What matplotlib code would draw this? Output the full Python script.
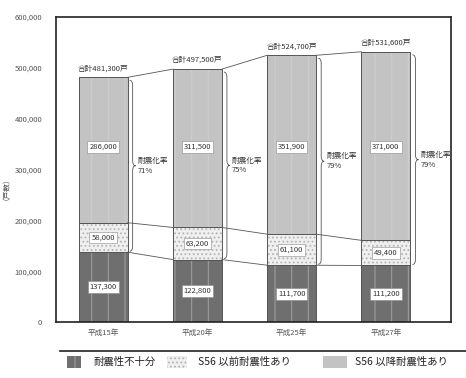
import matplotlib
matplotlib.use("Agg")
import matplotlib.pyplot as plt
from matplotlib.patches import Rectangle, PathPatch
from matplotlib.path import Path
from matplotlib.lines import Line2D

plt.rcParams['font.family'] = ['Noto Sans CJK JP', 'DejaVu Sans']
plt.rcParams['hatch.linewidth'] = 0.8

years = ["平成15年", "平成20年", "平成25年", "平成27年"]
insufficient = [137300, 122800, 111700, 111200]
pre56 = [58000, 63200, 61100, 49400]
post56 = [286000, 311500, 351900, 371000]
rates = ["71%", "75%", "79%", "79%"]
yticks = [0, 100000, 200000, 300000, 400000, 500000, 600000]
legend_labels = ["耐震性不十分", "S56 以前耐震性あり", "S56 以降耐震性あり"]

W, H = 466, 378
fig = plt.figure(figsize=(W / 100, H / 100), dpi=100)
L, R, T, B = 56, 451, 17, 322
ax = fig.add_axes([L / W, 1 - B / H, (R - L) / W, (B - T) / H])
ax.set_xlim(-0.5, 3.69)
ax.set_ylim(0, 600000)

px_x = (3.69 + 0.5) / (R - L)
px_y = 600000 / (B - T)

x = list(range(len(years)))
bw = 0.52
dark_c, mid_c, top_c = '#6f6f6f', '#efefef', '#c3c3c3'

ax.bar(x, insufficient, bw, color=dark_c, edgecolor='#9c9c9c', hatch='|', lw=0)
bottoms2 = insufficient
ax.bar(x, pre56, bw, bottom=bottoms2, color=mid_c, edgecolor='#b5b5b5', hatch='....', lw=0)
bottoms3 = [a + b for a, b in zip(insufficient, pre56)]
ax.bar(x, post56, bw, bottom=bottoms3, color=top_c, edgecolor='#cfcfcf', hatch='|', lw=0)
totals = [a + b for a, b in zip(bottoms3, post56)]
# outlines
for seg, bot in ((insufficient, [0] * 4), (pre56, bottoms2), (post56, bottoms3)):
    ax.bar(x, seg, bw, bottom=bot, fill=False, edgecolor='#555555', lw=0.7)

# connecting lines
for i in range(len(x) - 1):
    for lev in (totals, bottoms3, insufficient):
        ax.plot([x[i] + bw / 2, x[i + 1] - bw / 2], [lev[i], lev[i + 1]],
                color='#555555', lw=0.6, zorder=1)

box = dict(facecolor='white', edgecolor='#888888', lw=0.4, boxstyle='square,pad=0.25')
fs = 5.5
for i in x:
    ax.text(x[i], insufficient[i] / 2, f"{insufficient[i]:,}", ha='center', va='center',
            fontsize=fs, color='#333333', bbox=box)
    ax.text(x[i], bottoms2[i] + pre56[i] / 2, f"{pre56[i]:,}", ha='center', va='center',
            fontsize=fs, color='#333333', bbox=box)
    ax.text(x[i], 345000, f"{post56[i]:,}", ha='center', va='center',
            fontsize=fs, color='#333333', bbox=box)
    ax.text(x[i], totals[i] + 9 * px_y, f"合計{totals[i]:,}戸", ha='center', va='center',
            fontsize=fs, color='#333333')

    # brace
    x0 = x[i] + bw / 2 + 2 * px_x
    w = 3 * px_x
    y1 = totals[i] - 3 * px_y
    y0 = insufficient[i] + 1 * px_y
    ym = (y0 + y1) / 2
    c = 5 * px_y
    verts = [(x0, y1), (x0 + w, y1), (x0 + w, y1 - c),
             (x0 + w, ym + c),
             (x0 + w, ym), (x0 + 2 * w, ym),
             (x0 + w, ym), (x0 + w, ym - c),
             (x0 + w, y0 + c),
             (x0 + w, y0), (x0, y0)]
    codes = [Path.MOVETO, Path.CURVE3, Path.CURVE3,
             Path.LINETO,
             Path.CURVE3, Path.CURVE3,
             Path.CURVE3, Path.CURVE3,
             Path.LINETO,
             Path.CURVE3, Path.CURVE3]
    ax.add_patch(PathPatch(Path(verts, codes), fill=False, edgecolor='#555555', lw=0.6))
    ax.text(x0 + 2 * w + 2 * px_x, ym, "耐震化率\n" + rates[i], ha='left', va='center',
            fontsize=fs, color='#333333', linespacing=1.3)

ax.set_xticks(x)
ax.set_xticklabels(years, fontsize=5.5, color='#555555')
ax.set_yticks(yticks)
ax.set_yticklabels([f"{v:,}" for v in yticks], fontsize=5.5, color='#555555')
ax.tick_params(length=0, pad=10)
ax.tick_params(axis='x', pad=5)
for s in ax.spines.values():
    s.set_linewidth(1.2)
    s.set_color('#222222')
ax.set_ylabel("（戸数）", fontsize=5.5, color='#555555', labelpad=2)
ax.yaxis.set_label_coords(-0.125, 0.45)

# legend
fig.add_artist(Line2D([60 / W, 1.0], [1 - 351 / H, 1 - 351 / H], color='#222222', lw=1.2))
ly = 362
items = [(67, 14, dark_c, '#9c9c9c', '|', 93), (167, 20, mid_c, '#b5b5b5', '....', 198),
         (323, 24, top_c, '#c3c3c3', '', 355)]
for (px0, pw, fc, hc, hatch, tx), lab in zip(items, legend_labels):
    fig.add_artist(Rectangle((px0 / W, 1 - (ly + 6) / H), pw / W, 12 / H,
                             transform=fig.transFigure, facecolor=fc, edgecolor=hc,
                             hatch=hatch, lw=0))
    fig.text(tx / W, 1 - ly / H, lab, fontsize=7.5, color='#222222', ha='left', va='center')

fig.savefig("out.png", dpi=100)
